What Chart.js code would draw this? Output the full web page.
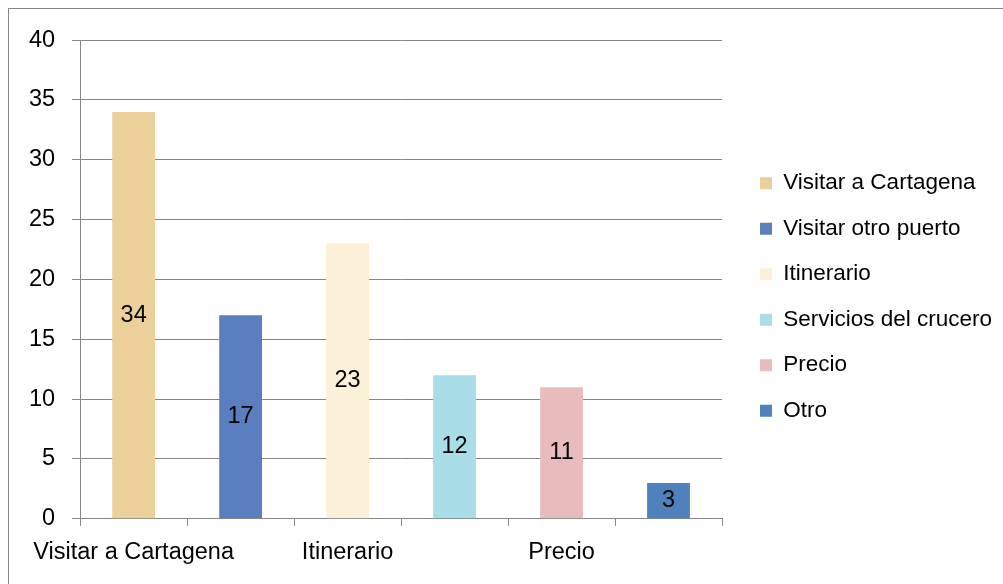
<!DOCTYPE html>
<html>
<head>
<meta charset="utf-8">
<script src="https://cdn.jsdelivr.net/npm/chart.js@4.4.1/dist/chart.umd.min.js"></script>
<style>
    html, body { margin: 0; padding: 0; background: #fff; overflow: hidden; }
    #frame {
        position: absolute;
        left: 8px; top: 8px;
        width: 1000px; height: 580px;
        border: 1px solid #868686;
    }
    #frame canvas { position: absolute; left: 0; top: 0; }
</style>
</head>
<body>
<div id="frame">
    <canvas id="motivosChart" width="1000" height="580"></canvas>
</div>
<script>
// Motivos para elegir el crucero
const categorias = ['Visitar a Cartagena', 'Visitar otro puerto', 'Itinerario', 'Servicios del crucero', 'Precio', 'Otro'];
const valores = [34, 17, 23, 12, 11, 3];
const colores = ['#ebd199', '#5a7ec0', '#fdf0d9', '#a9dde8', '#e8bcbc', '#4f81bd'];
const ticksY = [0, 5, 10, 15, 20, 25, 30, 35, 40];

const fuente = "'Liberation Sans', Arial, sans-serif";
const tamFuente = 23.5;
const gris = '#868686';

/**
 * Draw the value in the middle of every bar
 */
const etiquetasBarras = {
    id: 'etiquetasBarras',
    afterDatasetsDraw(chart) {
        const ctx = chart.ctx;
        const meta = chart.getDatasetMeta(0);
        ctx.save();
        ctx.font = tamFuente + 'px ' + fuente;
        ctx.fillStyle = '#000';
        ctx.textAlign = 'center';
        ctx.textBaseline = 'middle';
        meta.data.forEach((bar, i) => {
            const y = (bar.y + bar.base) / 2;
            ctx.fillText(String(valores[i]), bar.x, y);
        });
        ctx.restore();
    }
};

/**
 * Move the legend a bit, like the original sheet
 */
const moverLeyenda = {
    id: 'moverLeyenda',
    afterLayout(chart) {
        const legend = chart.legend;
        if (!legend) return;
        legend.left += 15;
        legend.right += 15;
        legend.top -= 10;
        legend.bottom -= 10;
    }
};

const ctx = document.getElementById('motivosChart').getContext('2d');
new Chart(ctx, {
    type: 'bar',
    data: {
        labels: categorias,
        datasets: [{
            data: valores,
            backgroundColor: colores,
            borderWidth: 0,
            barPercentage: 0.4,
            categoryPercentage: 1.0
        }]
    },
    options: {
        responsive: false,
        animation: false,
        layout: {
            padding: { left: 3, top: 25, right: 27, bottom: 9 }
        },
        plugins: {
            tooltip: { enabled: false },
            legend: {
                position: 'right',
                maxWidth: 260,
                labels: {
                    boxWidth: 12,
                    boxHeight: 12,
                    padding: 23,
                    color: '#000',
                    font: { size: 22.5, family: fuente },
                    generateLabels: function(chart) {
                        return categorias.map((c, i) => ({
                            text: c,
                            fillStyle: colores[i],
                            strokeStyle: colores[i],
                            lineWidth: 0,
                            hidden: false,
                            index: i
                        }));
                    }
                }
            }
        },
        scales: {
            x: {
                grid: {
                    display: true,
                    drawOnChartArea: false,
                    drawTicks: true,
                    tickLength: 7,
                    color: gris
                },
                border: { display: true, color: gris },
                ticks: {
                    autoSkip: false,
                    maxRotation: 0,
                    padding: 13,
                    color: '#000',
                    font: { size: tamFuente, family: fuente },
                    callback: function(value, index) {
                        return index % 2 === 0 ? categorias[index] : '';
                    }
                }
            },
            y: {
                min: ticksY[0],
                max: ticksY[ticksY.length - 1],
                afterBuildTicks: function(axis) {
                    axis.ticks = ticksY.map(v => ({ value: v }));
                },
                grid: {
                    color: gris,
                    tickLength: 8
                },
                border: { display: true, color: gris },
                ticks: {
                    padding: 17,
                    color: '#000',
                    font: { size: tamFuente, family: fuente }
                }
            }
        }
    },
    plugins: [etiquetasBarras, moverLeyenda]
});
</script>
</body>
</html>
